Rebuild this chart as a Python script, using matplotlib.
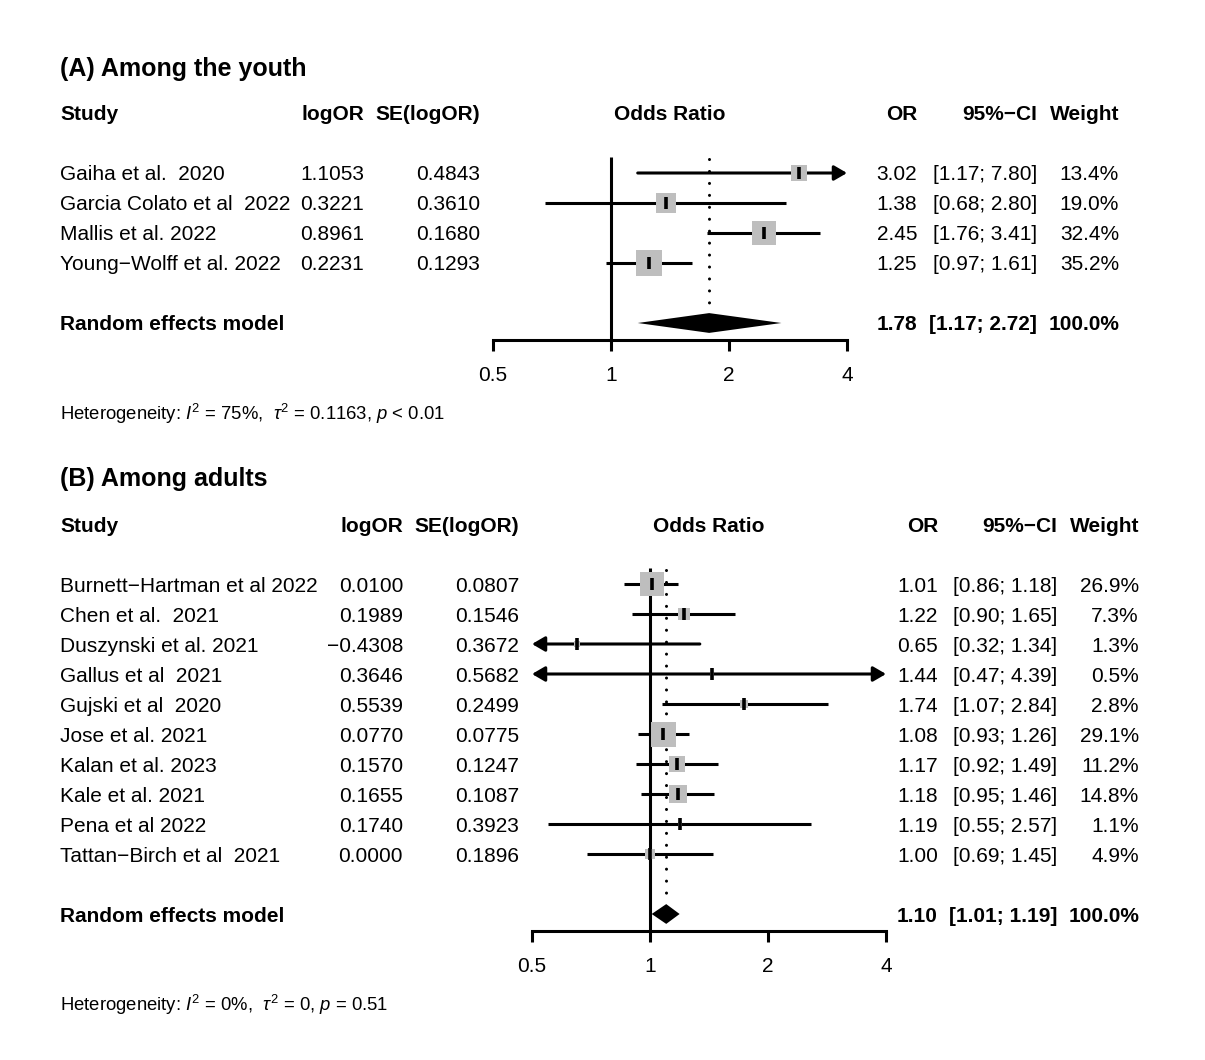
"""Forest plots of e-cigarette / cannabis odds ratios, youth and adult panels."""

import matplotlib

matplotlib.use("Agg")
import matplotlib.pyplot as plt
import numpy as np

plt.rcParams["font.family"] = ["Liberation Sans", "DejaVu Sans"]
plt.rcParams["mathtext.fontset"] = "custom"
plt.rcParams["mathtext.rm"] = "Liberation Sans"
plt.rcParams["mathtext.it"] = "Liberation Sans:italic"

# ---- data: panel A (youth)
youth_studies = [
    "Gaiha et al.  2020",
    "Garcia Colato et al  2022",
    "Mallis et al. 2022",
    "Young\u2212Wolff et al. 2022",
]
youth_logor = [1.1053, 0.3221, 0.8961, 0.2231]
youth_se = [0.4843, 0.3610, 0.1680, 0.1293]
youth_or = [3.02, 1.38, 2.45, 1.25]
youth_lo = [1.17, 0.68, 1.76, 0.97]
youth_hi = [7.80, 2.80, 3.41, 1.61]
youth_weight = [13.4, 19.0, 32.4, 35.2]
youth_pooled = [1.78, 1.17, 2.72]
youth_het = r"Heterogeneity: $I^2$ = 75%,  $\tau^2$ = 0.1163, $p$ < 0.01"

# ---- data: panel B (adults)
adult_studies = [
    "Burnett\u2212Hartman et al 2022",
    "Chen et al.  2021",
    "Duszynski et al. 2021",
    "Gallus et al  2021",
    "Gujski et al  2020",
    "Jose et al. 2021",
    "Kalan et al. 2023",
    "Kale et al. 2021",
    "Pena et al 2022",
    "Tattan\u2212Birch et al  2021",
]
adult_logor = [0.0100, 0.1989, -0.4308, 0.3646, 0.5539, 0.0770, 0.1570, 0.1655, 0.1740, 0.0000]
adult_se = [0.0807, 0.1546, 0.3672, 0.5682, 0.2499, 0.0775, 0.1247, 0.1087, 0.3923, 0.1896]
adult_or = [1.01, 1.22, 0.65, 1.44, 1.74, 1.08, 1.17, 1.18, 1.19, 1.00]
adult_lo = [0.86, 0.90, 0.32, 0.47, 1.07, 0.93, 0.92, 0.95, 0.55, 0.69]
adult_hi = [1.18, 1.65, 1.34, 4.39, 2.84, 1.26, 1.49, 1.46, 2.57, 1.45]
adult_weight = [26.9, 7.3, 1.3, 0.5, 2.8, 29.1, 11.2, 14.8, 1.1, 4.9]
adult_pooled = [1.10, 1.01, 1.19]
adult_het = r"Heterogeneity: $I^2$ = 0%,  $\tau^2$ = 0, $p$ = 0.51"

x_ticks = [0.5, 1, 2, 4]
x_ticklabels = ["0.5", "1", "2", "4"]

W, H = 1205, 1060
FS = 15
ROW = 30
LW = 2.2
SQUARE_GRAY = "#BEBEBE"

fig = plt.figure(figsize=(W / 100, H / 100), dpi=100)


def put(x, y, s, ha="left", bold=False, size=FS, **kw):
    # small downward nudge so text sits on the row centre like the R output
    fig.text(x / W, 1 - (y + 2) / H, s, ha=ha, va="center", fontsize=size,
             fontweight="bold" if bold else "normal", **kw)


def fmt_num(v, nd):
    return f"{v:.{nd}f}".replace("-", "\u2212")


def draw_panel(title, y_title, studies, logor, se, ors, lo, hi, weight, pooled, het,
               cols, forest_x, y_first, max_side):
    n = len(studies)
    y_head = y_first - 60
    y_re = y_first + ROW * (n + 1)
    c_log, c_se, c_or, c_ci, c_w = cols
    fx0, fx1 = forest_x

    put(60, y_title, title, bold=True, size=18)
    put(60, y_head, "Study", bold=True)
    put(c_log, y_head, "logOR", ha="right", bold=True)
    put(c_se, y_head, "SE(logOR)", ha="right", bold=True)
    put((fx0 + fx1) / 2, y_head, "Odds Ratio", ha="center", bold=True)
    put(c_or, y_head, "OR", ha="right", bold=True)
    put(c_ci, y_head, "95%\u2212CI", ha="right", bold=True)
    put(c_w, y_head, "Weight", ha="right", bold=True)

    for i in range(n):
        y = y_first + ROW * i
        put(60, y, studies[i])
        put(c_log, y, fmt_num(logor[i], 4), ha="right")
        put(c_se, y, fmt_num(se[i], 4), ha="right")
        put(c_or, y, f"{ors[i]:.2f}", ha="right")
        put(c_ci, y, f"[{lo[i]:.2f}; {hi[i]:.2f}]", ha="right")
        put(c_w, y, f"{weight[i]:.1f}%", ha="right")

    put(60, y_re, "Random effects model", bold=True)
    put(c_or, y_re, f"{pooled[0]:.2f}", ha="right", bold=True)
    put(c_ci, y_re, f"[{pooled[1]:.2f}; {pooled[2]:.2f}]", ha="right", bold=True)
    put(c_w, y_re, "100.0%", ha="right", bold=True)

    # forest axes: rows in data units, axis line at the bottom spine
    y_axis = y_re + 17
    top_row = -0.6
    bottom_row = (y_axis - y_first) / ROW
    y_top_px = y_first + top_row * ROW
    ax = fig.add_axes([fx0 / W, 1 - y_axis / H, (fx1 - fx0) / W, (y_axis - y_top_px) / H])
    ax.set_xscale("log", base=2)
    ax.set_xlim(0.5, 4)
    ax.set_ylim(bottom_row, top_row)
    ax.patch.set_alpha(0)
    for side in ("top", "left", "right"):
        ax.spines[side].set_visible(False)
    ax.spines["bottom"].set_linewidth(LW)
    ax.set_yticks([])
    ax.set_xticks(x_ticks)
    ax.set_xticklabels(x_ticklabels)
    ax.minorticks_off()
    ax.tick_params(axis="x", length=8, width=LW, pad=11, labelsize=FS)

    n_re = n + 1
    half_h = 0.33
    # null line
    ax.plot([1, 1], [-0.53, bottom_row], color="black", lw=LW, clip_on=False,
            solid_capstyle="butt")
    # pooled estimate dotted line
    ax.plot([pooled[0], pooled[0]], [-0.45, n_re - half_h - 0.04], color="black", lw=LW,
            linestyle=(0, (0.01, 3.9)), dash_capstyle="round", clip_on=False)

    wmax = max(weight)
    arrow_kw = dict(lw=LW, color="black", shrinkA=0, shrinkB=0, mutation_scale=14)
    for i in range(n):
        left = max(lo[i], 0.5)
        right = min(hi[i], 4)
        if lo[i] < 0.5 and hi[i] > 4:
            ax.annotate("", xy=(0.5, i), xytext=(4, i), annotation_clip=False,
                        arrowprops=dict(arrowstyle="<|-|>,head_length=0.55,head_width=0.32",
                                        **arrow_kw))
        elif lo[i] < 0.5:
            ax.annotate("", xy=(0.5, i), xytext=(right, i), annotation_clip=False,
                        arrowprops=dict(arrowstyle="-|>,head_length=0.55,head_width=0.32",
                                        **arrow_kw))
        elif hi[i] > 4:
            ax.annotate("", xy=(4, i), xytext=(left, i), annotation_clip=False,
                        arrowprops=dict(arrowstyle="-|>,head_length=0.55,head_width=0.32",
                                        **arrow_kw))
        else:
            ax.plot([left, right], [i, i], color="black", lw=LW, clip_on=False,
                    solid_capstyle="butt")
        side_pt = max_side * np.sqrt(weight[i] / wmax) * 0.72
        ax.scatter([ors[i]], [i], s=side_pt ** 2, marker="s", color=SQUARE_GRAY,
                   linewidths=0, zorder=3, clip_on=False)
        ax.plot([ors[i]], [i], marker="|", markersize=8, markeredgewidth=2.6,
                color="black", zorder=4, clip_on=False)

    est, plo, phi = pooled
    ax.fill([plo, est, phi, est], [n_re, n_re - half_h, n_re, n_re + half_h],
            color="black", lw=0, zorder=3, clip_on=False)

    put(60, y_axis + 72, het, size=13.3)


draw_panel("(A) Among the youth", 67, youth_studies, youth_logor, youth_se, youth_or,
           youth_lo, youth_hi, youth_weight, youth_pooled, youth_het,
           cols=(364, 480, 917, 1037, 1119), forest_x=(493, 847), y_first=173, max_side=26)

draw_panel("(B) Among adults", 477, adult_studies, adult_logor, adult_se, adult_or,
           adult_lo, adult_hi, adult_weight, adult_pooled, adult_het,
           cols=(403, 519, 938, 1057, 1139), forest_x=(532, 886), y_first=584, max_side=25)

fig.savefig("out.png", dpi=100, facecolor="white")
plt.close(fig)
